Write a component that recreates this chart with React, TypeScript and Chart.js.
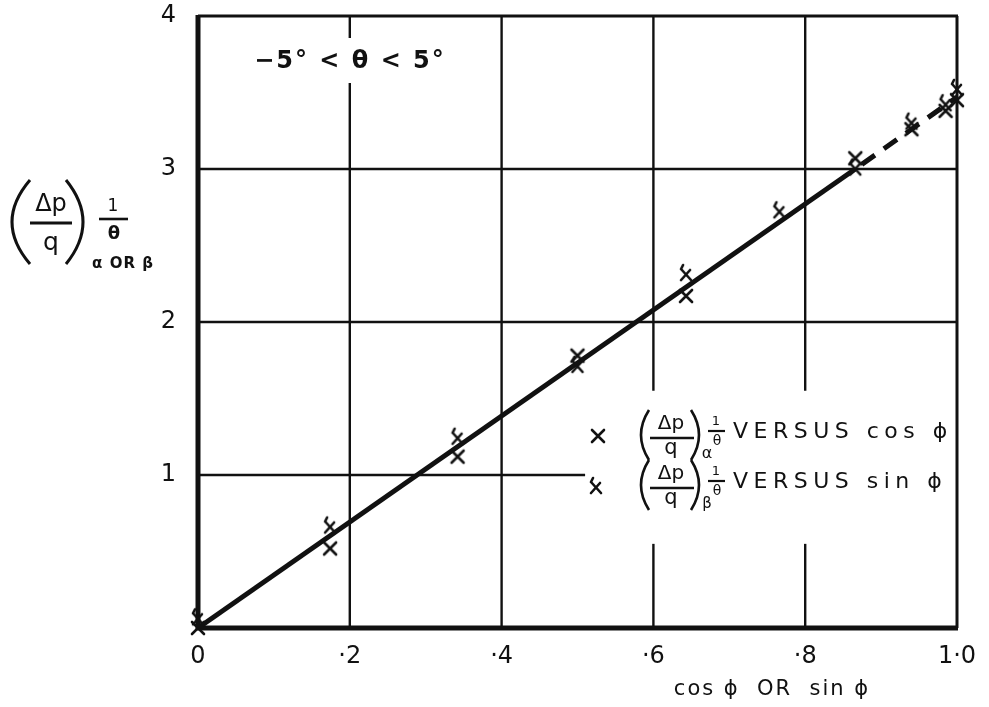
import React, { useEffect, useRef } from "react";
import { Chart, registerables } from "chart.js";

Chart.register(...registerables);

// Axis ticks
const xTickValues = [0, 0.2, 0.4, 0.6, 0.8, 1.0];
const xTickLabels = ["0", "·2", "·4", "·6", "·8", "1·0"];
const yTickValues = [0, 1, 2, 3, 4];
const yTickLabels = ["", "1", "2", "3", "4"];

// (Δp/q)α·1/θ plotted against cos φ
const cosX = [0, 0.174, 0.342, 0.5, 0.643, 0.866, 0.94, 0.985, 1.0];
const cosY = [0.0, 0.52, 1.12, 1.78, 2.17, 3.07, 3.26, 3.38, 3.45];

// (Δp/q)β·1/θ plotted against sin φ
const sinX = [0, 0.174, 0.342, 0.5, 0.643, 0.766, 0.866, 0.94, 0.985, 1.0];
const sinY = [0.07, 0.67, 1.25, 1.72, 2.32, 2.73, 3.01, 3.31, 3.43, 3.53];

// Faired straight line, solid then dashed where it is extrapolated
const fitSolidX = [0, 0.866];
const fitSolidY = [0, 3.0];
const fitDashX = [0.866, 1.0];
const fitDashY = [3.0, 3.47];

const FONT = "'DejaVu Sans', sans-serif";
const INK = "#111";

const zip = (xs: number[], ys: number[]) => xs.map((x, i) => ({ x, y: ys[i] }));

function makeMarker(kind: "cos" | "sin"): HTMLCanvasElement {
  const c = document.createElement("canvas");
  c.width = 22;
  c.height = 24;
  const g = c.getContext("2d")!;
  g.strokeStyle = INK;
  g.lineWidth = 2.6;
  g.lineCap = "round";
  g.beginPath();
  if (kind === "cos") {
    g.moveTo(5, 6);
    g.lineTo(17, 18);
    g.moveTo(17, 6);
    g.lineTo(5, 18);
  } else {
    g.moveTo(6, 8);
    g.lineTo(16, 19);
    g.moveTo(15, 9);
    g.lineTo(6, 19);
    // small hook at the top of the stroke
    g.moveTo(6, 8);
    g.lineTo(8, 4);
  }
  g.stroke();
  return c;
}

function paren(ctx: CanvasRenderingContext2D, xEnd: number, xMid: number, top: number, bottom: number) {
  ctx.beginPath();
  ctx.moveTo(xEnd, top);
  ctx.quadraticCurveTo(2 * xMid - xEnd, (top + bottom) / 2, xEnd, bottom);
  ctx.stroke();
}

function hline(ctx: CanvasRenderingContext2D, x1: number, x2: number, y: number, w: number) {
  ctx.lineWidth = w;
  ctx.beginPath();
  ctx.moveTo(x1, y);
  ctx.lineTo(x2, y);
  ctx.stroke();
}

function vline(ctx: CanvasRenderingContext2D, x: number, y1: number, y2: number, w: number) {
  ctx.lineWidth = w;
  ctx.beginPath();
  ctx.moveTo(x, y1);
  ctx.lineTo(x, y2);
  ctx.stroke();
}

function text(ctx: CanvasRenderingContext2D, s: string, x: number, y: number, size: number, align: CanvasTextAlign = "center", spacing = 0, weight = "normal") {
  ctx.font = `${weight} ${size}px ${FONT}`;
  (ctx as any).letterSpacing = `${spacing}px`;
  ctx.textAlign = align;
  ctx.textBaseline = "middle";
  ctx.fillText(s, x, y);
  (ctx as any).letterSpacing = "0px";
}

// (Δp/q) with subscript and 1/θ factor
function deltaGroup(ctx: CanvasRenderingContext2D, x: number, cy: number, sub: string, subSize: number) {
  ctx.strokeStyle = INK;
  ctx.fillStyle = INK;
  ctx.lineWidth = 2.6;
  paren(ctx, x + 8, x, cy - 26, cy + 24);
  paren(ctx, x + 50, x + 58, cy - 26, cy + 24);
  text(ctx, "Δp", x + 30, cy - 12, 20);
  hline(ctx, x + 9, x + 53, cy + 2, 2.6);
  text(ctx, "q", x + 30, cy + 13, 21);
  text(ctx, sub, x + 66, cy + 18, subSize);
  text(ctx, "1", x + 75, cy - 14, 13);
  hline(ctx, x + 67, x + 84, cy - 5, 2.2);
  text(ctx, "θ", x + 76, cy + 5, 14);
}

function makeDecorPlugin(markers: { cos: HTMLCanvasElement; sin: HTMLCanvasElement }) {
  return {
    id: "decor",
    beforeDatasetsDraw(chart: any) {
      const { ctx, chartArea: a, scales } = chart;
      const xs = scales.x;
      const ys = scales.y;
      const X = (v: number) => xs.getPixelForValue(v);
      const Y = (v: number) => ys.getPixelForValue(v);
      ctx.save();
      ctx.strokeStyle = INK;
      ctx.lineCap = "butt";

      // title gap on the 0.2 line and legend block
      const titleTop = a.top + 22;
      const titleBot = a.top + 67;
      const legTopV = 1.55;
      const legBotV = 0.55;
      const legLeftV = 0.51;

      // horizontal grid
      hline(ctx, a.left, a.right, Y(2), 2.4);
      hline(ctx, a.left, a.right, Y(3), 2.4);
      hline(ctx, a.left, X(legLeftV), Y(1), 2.4);

      // vertical grid
      vline(ctx, X(0.2), a.top, titleTop, 2.4);
      vline(ctx, X(0.2), titleBot, a.bottom, 2.4);
      vline(ctx, X(0.4), a.top, a.bottom, 2.4);
      for (const v of [0.6, 0.8]) {
        vline(ctx, X(v), a.top, Y(legTopV), 2.4);
        vline(ctx, X(v), Y(legBotV), a.bottom, 2.4);
      }

      // frame
      vline(ctx, a.left, a.top - 1, a.bottom + 2, 5);
      hline(ctx, a.left - 2, a.right + 1, a.bottom, 5);
      hline(ctx, a.left, a.right + 1, a.top, 3);
      vline(ctx, a.right, a.top, a.bottom, 3);

      ctx.fillStyle = INK;
      // range note
      text(ctx, "−5° < θ < 5°", a.left + 152, a.top + 46, 24, "center", 2, "bold");

      // y-axis title
      ctx.lineWidth = 3;
      paren(ctx, 30, 12, 180, 264);
      paren(ctx, 66, 83, 180, 264);
      text(ctx, "Δp", 51, 205, 24);
      hline(ctx, 30, 72, 223, 3);
      text(ctx, "q", 51, 243, 25);
      text(ctx, "1", 113, 207, 17);
      hline(ctx, 99, 128, 219, 2.6);
      text(ctx, "θ", 114, 234, 18, "center", 0, "bold");
      text(ctx, "α OR β", 123, 264, 15, "center", 1, "bold");

      // x-axis title
      text(ctx, "cos ϕ  OR  sin ϕ", 772, 690, 21, "center", 2);

      // legend
      const r1 = 436;
      const r2 = 486;
      ctx.drawImage(markers.cos, 598 - 11, r1 - 12);
      ctx.drawImage(markers.sin, 596 - 11, r2 - 12);
      deltaGroup(ctx, 641, r1, "α", 16);
      deltaGroup(ctx, 641, r2, "β", 15);
      text(ctx, "VERSUS cos ϕ", 733, r1 - 4, 22, "left", 5.5);
      text(ctx, "VERSUS sin ϕ", 733, r2 - 4, 22, "left", 5.5);
      ctx.restore();
    },
  };
}

export default function App() {
  const ref = useRef<HTMLCanvasElement | null>(null);

  useEffect(() => {
    if (!ref.current) return;
    const markers = { cos: makeMarker("cos"), sin: makeMarker("sin") };
    const chart = new Chart(ref.current, {
      type: "scatter",
      data: {
        datasets: [
          {
            label: "fit",
            data: zip(fitSolidX, fitSolidY),
            showLine: true,
            borderColor: INK,
            borderWidth: 5,
            pointRadius: 0,
          },
          {
            label: "fit extrapolated",
            data: zip(fitDashX, fitDashY),
            showLine: true,
            borderColor: INK,
            borderWidth: 5,
            borderDash: [16, 11],
            borderDashOffset: -8,
            pointRadius: 0,
          },
          {
            label: "versus cos φ",
            data: zip(cosX, cosY),
            pointStyle: markers.cos as any,
            pointRadius: 8,
          },
          {
            label: "versus sin φ",
            data: zip(sinX, sinY),
            pointStyle: markers.sin as any,
            pointRadius: 8,
          },
        ],
      },
      options: {
        animation: false,
        responsive: false,
        events: [],
        clip: false,
        layout: { padding: { top: 16, right: 32, left: 0, bottom: 0 } },
        plugins: { legend: { display: false }, tooltip: { enabled: false } },
        scales: {
          x: {
            type: "linear",
            min: 0,
            max: 1,
            grid: { display: false, drawTicks: false },
            border: { display: false },
            afterBuildTicks: (s: any) => {
              s.ticks = xTickValues.map((value) => ({ value }));
            },
            afterFit: (s: any) => {
              s.height = 79;
              s.paddingLeft = 0;
              s.paddingRight = 0;
            },
            ticks: {
              padding: 14,
              color: INK,
              font: { family: FONT, size: 24 },
              callback: (_v: any, i: number) => xTickLabels[i],
            },
          },
          y: {
            type: "linear",
            min: 0,
            max: 4,
            grid: { display: false, drawTicks: false },
            border: { display: false },
            afterBuildTicks: (s: any) => {
              s.ticks = yTickValues.map((value) => ({ value }));
            },
            afterFit: (s: any) => {
              s.width = 198;
              s.paddingTop = 0;
              s.paddingBottom = 0;
            },
            ticks: {
              padding: 22,
              color: INK,
              font: { family: FONT, size: 24 },
              callback: (_v: any, i: number) => yTickLabels[i],
            },
          },
        },
      } as any,
      plugins: [makeDecorPlugin(markers)],
    });
    return () => chart.destroy();
  }, []);

  return (
    <div style={{ position: "fixed", left: 0, top: 0, width: 989, height: 707, background: "#fff" }}>
      <canvas ref={ref} width={989} height={707} />
    </div>
  );
}
